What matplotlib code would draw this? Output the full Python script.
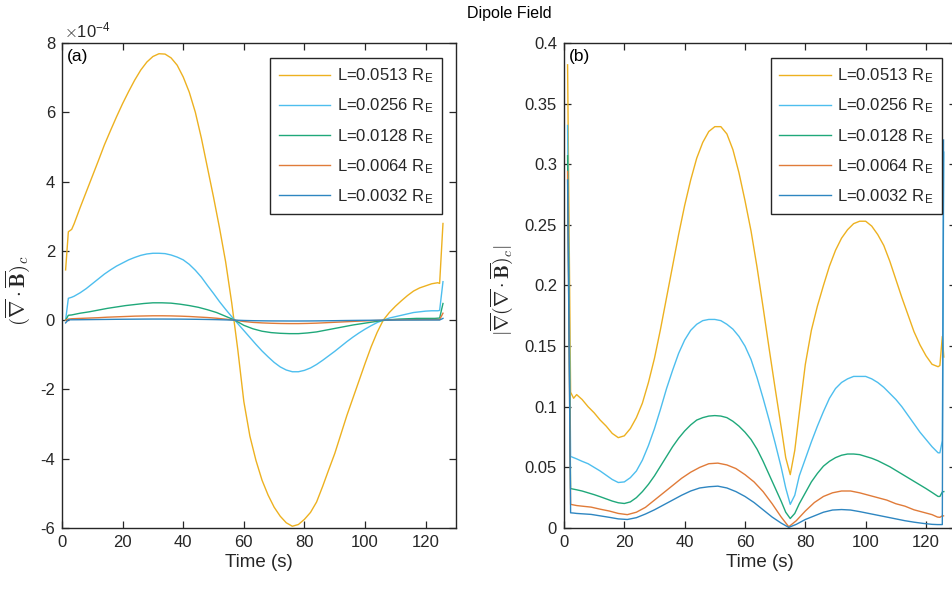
import numpy as np
import matplotlib
matplotlib.use("Agg")
import matplotlib.pyplot as plt

plt.rcParams["font.family"] = ["Liberation Sans", "DejaVu Sans"]
plt.rcParams["mathtext.fontset"] = "cm"
plt.rcParams["axes.unicode_minus"] = False

# -----------------------------
# Data
# -----------------------------
labels = ["L=0.0513 R$_\\mathregular{E}$", "L=0.0256 R$_\\mathregular{E}$",
          "L=0.0128 R$_\\mathregular{E}$", "L=0.0064 R$_\\mathregular{E}$",
          "L=0.0032 R$_\\mathregular{E}$"]
colors = ["#EDB120", "#4DBEEE", "#1FA87A", "#E07B39", "#2E86C1"]

# panel (a): divergence of B, in units of 1e-4
# fine time grid for the two large curves
t_a_fine = [1.2, 2.1, 3.2, 4, 6, 8, 10, 12, 14, 16, 18, 20, 22, 24, 26, 28,
            30, 32, 34, 36, 38, 40, 42, 44, 46, 48, 50, 52, 54, 56, 58, 60,
            62, 64, 66, 68, 70, 72, 74, 76, 78, 80, 82, 84, 86, 88, 90, 92,
            94, 96, 98, 100, 102, 104, 106, 108, 110, 112, 114, 116, 118,
            120, 122, 124, 124.6, 125.7]
div_0513 = [1.45, 2.55, 2.62, 2.78, 3.25, 3.7, 4.15, 4.6, 5.06, 5.47, 5.87,
            6.25, 6.6, 6.93, 7.22, 7.45, 7.61, 7.69, 7.68, 7.57, 7.36, 7.02,
            6.58, 6.0, 5.25, 4.4, 3.55, 2.65, 1.68, 0.5, -0.85, -2.35,
            -3.35, -4.05, -4.62, -5.05, -5.4, -5.66, -5.85, -5.95, -5.9,
            -5.75, -5.55, -5.25, -4.8, -4.32, -3.85, -3.3, -2.75, -2.25,
            -1.75, -1.25, -0.77, -0.35, 0.0, 0.22, 0.4, 0.56, 0.71, 0.84,
            0.93, 0.99, 1.05, 1.08, 1.06, 2.79]
div_0256 = [0.0, 0.63, 0.66, 0.69, 0.79, 0.91, 1.05, 1.19, 1.33, 1.45, 1.56,
            1.65, 1.74, 1.81, 1.87, 1.91, 1.93, 1.93, 1.92, 1.88, 1.82, 1.74,
            1.61, 1.44, 1.24, 1.0, 0.77, 0.53, 0.31, 0.1, -0.1, -0.3, -0.5,
            -0.7, -0.89, -1.06, -1.22, -1.35, -1.44, -1.49, -1.49, -1.45,
            -1.38, -1.28, -1.16, -1.03, -0.9, -0.76, -0.62, -0.49, -0.37,
            -0.26, -0.16, -0.07, 0.0, 0.06, 0.1, 0.14, 0.18, 0.22, 0.24,
            0.26, 0.27, 0.27, 0.28, 1.11]

# coarse time grid for the three small curves
t_a = [1.2, 2.1, 3.2, 6, 9, 12, 15, 18, 21, 24, 27, 30, 33, 36, 39, 42, 45,
       48, 51, 54, 57, 60, 63, 66, 69, 72, 75, 78, 81, 84, 87, 90, 93, 96,
       99, 102, 105, 108, 111, 114, 117, 120, 123, 124.6, 125.7]
div_0128 = [0.0, 0.14, 0.15, 0.2, 0.24, 0.29, 0.34, 0.38, 0.42, 0.45, 0.48,
            0.5, 0.5, 0.49, 0.46, 0.42, 0.37, 0.3, 0.22, 0.11, 0.0, -0.15,
            -0.25, -0.32, -0.36, -0.38, -0.39, -0.39, -0.37, -0.34, -0.29,
            -0.24, -0.19, -0.14, -0.1, -0.06, -0.02, 0.01, 0.03, 0.04, 0.05,
            0.05, 0.05, 0.06, 0.48]
div_0064 = [0.0, 0.03, 0.04, 0.05, 0.06, 0.07, 0.085, 0.095, 0.105, 0.115,
            0.12, 0.125, 0.125, 0.122, 0.115, 0.105, 0.09, 0.075, 0.055,
            0.028, 0.0, -0.04, -0.065, -0.08, -0.09, -0.097, -0.1, -0.1,
            -0.095, -0.087, -0.075, -0.062, -0.05, -0.037, -0.025, -0.015,
            -0.005, 0.003, 0.008, 0.011, 0.013, 0.014, 0.015, 0.016, 0.2]
div_0032 = [-0.08, 0.01, 0.01, 0.012, 0.015, 0.018, 0.021, 0.024, 0.026,
            0.028, 0.03, 0.031, 0.031, 0.03, 0.029, 0.026, 0.023, 0.019,
            0.014, 0.007, 0.0, -0.01, -0.016, -0.02, -0.023, -0.024, -0.025,
            -0.025, -0.024, -0.022, -0.019, -0.016, -0.012, -0.009, -0.006,
            -0.004, -0.001, 0.001, 0.002, 0.003, 0.003, 0.004, 0.004, 0.004,
            0.05]

# panel (b): |grad(div B)|
t_b_fine = [1.2, 2.2, 3.2, 4.2, 6, 8, 10, 12, 14, 16, 18, 20, 22, 24, 26, 28,
            30, 32, 34, 36, 38, 40, 42, 44, 46, 48, 50, 52, 54, 56, 58, 60,
            62, 64, 66, 68, 70, 72, 73.5, 75, 76.5, 78, 80, 82, 84, 86, 88,
            90, 92, 94, 96, 98, 100, 102, 104, 106, 108, 110, 112, 114, 116,
            118, 120, 122, 124, 124.6, 125.4, 125.9]
grad_0513 = [0.382, 0.112, 0.107, 0.110, 0.106, 0.100, 0.095, 0.089, 0.084,
             0.078, 0.0745, 0.076, 0.082, 0.091, 0.103, 0.12, 0.14, 0.164,
             0.19, 0.216, 0.242, 0.266, 0.287, 0.305, 0.318, 0.327, 0.331,
             0.331, 0.325, 0.312, 0.293, 0.27, 0.245, 0.215, 0.182, 0.148,
             0.115, 0.083, 0.058, 0.044, 0.064, 0.095, 0.135, 0.163, 0.183,
             0.2, 0.216, 0.229, 0.239, 0.246, 0.251, 0.253, 0.253, 0.249,
             0.242, 0.233, 0.22, 0.205, 0.19, 0.176, 0.162, 0.151, 0.142,
             0.135, 0.133, 0.134, 0.158, 0.141]
grad_0256 = [0.332, 0.059, 0.058, 0.057, 0.055, 0.053, 0.05, 0.047, 0.0435,
             0.04, 0.0375, 0.038, 0.0415, 0.047, 0.056, 0.068, 0.082, 0.098,
             0.115, 0.13, 0.144, 0.155, 0.163, 0.168, 0.171, 0.172, 0.172,
             0.171, 0.168, 0.164, 0.158, 0.15, 0.139, 0.124, 0.107, 0.089,
             0.07, 0.05, 0.033, 0.0195, 0.027, 0.043, 0.057, 0.071, 0.084,
             0.096, 0.107, 0.115, 0.12, 0.123, 0.125, 0.125, 0.125, 0.123,
             0.12, 0.116, 0.111, 0.106, 0.1, 0.093, 0.086, 0.079, 0.073,
             0.067, 0.062, 0.062, 0.072, 0.31]
grad_0128 = [0.307, 0.0325, 0.032, 0.0315, 0.0305, 0.029, 0.0275, 0.0258,
             0.024, 0.0222, 0.0208, 0.0202, 0.0215, 0.025, 0.03, 0.036,
             0.043, 0.051, 0.059, 0.067, 0.074, 0.08, 0.085, 0.089, 0.091,
             0.0923, 0.0927, 0.0923, 0.091, 0.088, 0.084, 0.079, 0.073,
             0.065, 0.055, 0.044, 0.033, 0.022, 0.013, 0.0078, 0.012, 0.02,
             0.029, 0.038, 0.045, 0.051, 0.055, 0.058, 0.06, 0.061, 0.061,
             0.0605, 0.059, 0.0575, 0.0555, 0.053, 0.0505, 0.0475, 0.0445,
             0.0415, 0.0385, 0.0355, 0.0325, 0.0293, 0.026, 0.026, 0.0297,
             0.030]

t_b = [1.2, 2.2, 3.2, 4.2, 6, 9, 12, 15, 18, 21, 24, 27, 30, 33, 36, 39, 42,
       45, 48, 51, 54, 57, 60, 63, 66, 69, 72, 74.5, 77, 80, 83, 86, 89, 92,
       95, 98, 101, 104, 107, 110, 113, 116, 119, 122, 123.8, 124.6, 125.4,
       125.8]
grad_0064 = [0.294, 0.0195, 0.019, 0.0185, 0.018, 0.0172, 0.0155, 0.014,
             0.012, 0.011, 0.013, 0.017, 0.023, 0.029, 0.035, 0.041, 0.046,
             0.05, 0.053, 0.0535, 0.052, 0.049, 0.044, 0.038, 0.03, 0.02,
             0.009, 0.001, 0.006, 0.014, 0.021, 0.026, 0.029, 0.0305, 0.0305,
             0.029, 0.027, 0.025, 0.023, 0.020, 0.018, 0.015, 0.013, 0.011,
             0.009, 0.0088, 0.010, 0.010]
grad_0032 = [0.287, 0.0125, 0.0123, 0.012, 0.0117, 0.0112, 0.010, 0.0088,
             0.0075, 0.007, 0.0085, 0.0115, 0.015, 0.019, 0.023, 0.027,
             0.0305, 0.033, 0.034, 0.0345, 0.033, 0.030, 0.026, 0.021, 0.015,
             0.009, 0.004, 0.0005, 0.003, 0.007, 0.010, 0.013, 0.0148,
             0.0152, 0.0148, 0.0135, 0.012, 0.0105, 0.009, 0.0075, 0.006,
             0.0048, 0.0038, 0.003, 0.0028, 0.0028, 0.0028, 0.32]

series_a = [(t_a_fine, div_0513), (t_a_fine, div_0256), (t_a, div_0128),
            (t_a, div_0064), (t_a, div_0032)]
series_b = [(t_b_fine, grad_0513), (t_b_fine, grad_0256),
            (t_b_fine, grad_0128), (t_b, grad_0064), (t_b, grad_0032)]

yticks_a = [-6, -4, -2, 0, 2, 4, 6, 8]
yticks_b = [0, 0.05, 0.1, 0.15, 0.2, 0.25, 0.3, 0.35, 0.4]
yticklabels_b = ["0", "0.05", "0.1", "0.15", "0.2", "0.25", "0.3", "0.35",
                 "0.4"]
xticks = [0, 20, 40, 60, 80, 100, 120]

# -----------------------------
# Figure
# -----------------------------
dark = "#262626"
fig = plt.figure(figsize=(9.52, 5.89), dpi=100)
ax_a = fig.add_axes([0.0651, 0.1036, 0.4139, 0.8234])
ax_b = fig.add_axes([0.5924, 0.1036, 0.412, 0.8234])

fig.text(0.535, 0.977, "Dipole Field", ha="center", va="center",
         fontsize=11.5, color="black")


def style_axes(ax):
    ax.set_xlim(0, 130)
    ax.set_xticks(xticks)
    ax.tick_params(direction="in", length=5, width=0.9, top=True,
                   right=True, labelsize=12, colors=dark, pad=5)
    for sp in ax.spines.values():
        sp.set_color(dark)
        sp.set_linewidth(1.0)
    ax.set_xlabel("Time (s)", fontsize=13.5, color=dark, labelpad=3)


def add_legend(ax):
    leg = ax.legend(loc="upper right", bbox_to_anchor=(0.964, 0.969),
                    borderaxespad=0, fontsize=12, handlelength=3.1,
                    labelspacing=0.68, fancybox=False, framealpha=1,
                    edgecolor=dark, handletextpad=0.4, borderpad=0.5)
    leg.get_frame().set_linewidth(1.0)
    for txt in leg.get_texts():
        txt.set_color(dark)


# panel (a)
for (tt, vals), col, lab in zip(series_a, colors, labels):
    ax_a.plot(tt, vals, color=col, lw=1.0, label=lab)
style_axes(ax_a)
ax_a.set_ylim(-6, 8)
ax_a.set_yticks(yticks_a)
ax_a.set_ylabel(r"$(\overline{\nabla}\cdot\overline{\mathbf{B}})_c$",
                fontsize=15, color=dark)
ax_a.yaxis.set_label_coords(-0.076, 0.49)
ax_a.text(0.005, 1.005, r"$\times\mathregular{10^{-4}}$", transform=ax_a.transAxes,
          fontsize=12, color=dark, ha="left", va="bottom")
ax_a.text(0.012, 0.988, "(a)", transform=ax_a.transAxes, fontsize=12.5,
          color="black", ha="left", va="top")
add_legend(ax_a)

# panel (b)
for (tt, vals), col, lab in zip(series_b, colors, labels):
    ax_b.plot(tt, vals, color=col, lw=1.0, label=lab)
style_axes(ax_b)
ax_b.set_ylim(0, 0.4)
ax_b.set_yticks(yticks_b)
ax_b.set_yticklabels(yticklabels_b)
ax_b.set_ylabel(r"$|\overline{\nabla}(\overline{\nabla}\cdot\overline{\mathbf{B}})_c|$",
                fontsize=14, color=dark)
ax_b.yaxis.set_label_coords(-0.125, 0.49)
ax_b.text(0.012, 0.988, "(b)", transform=ax_b.transAxes, fontsize=12.5,
          color="black", ha="left", va="top")
add_legend(ax_b)

fig.savefig("out.png", dpi=100)
